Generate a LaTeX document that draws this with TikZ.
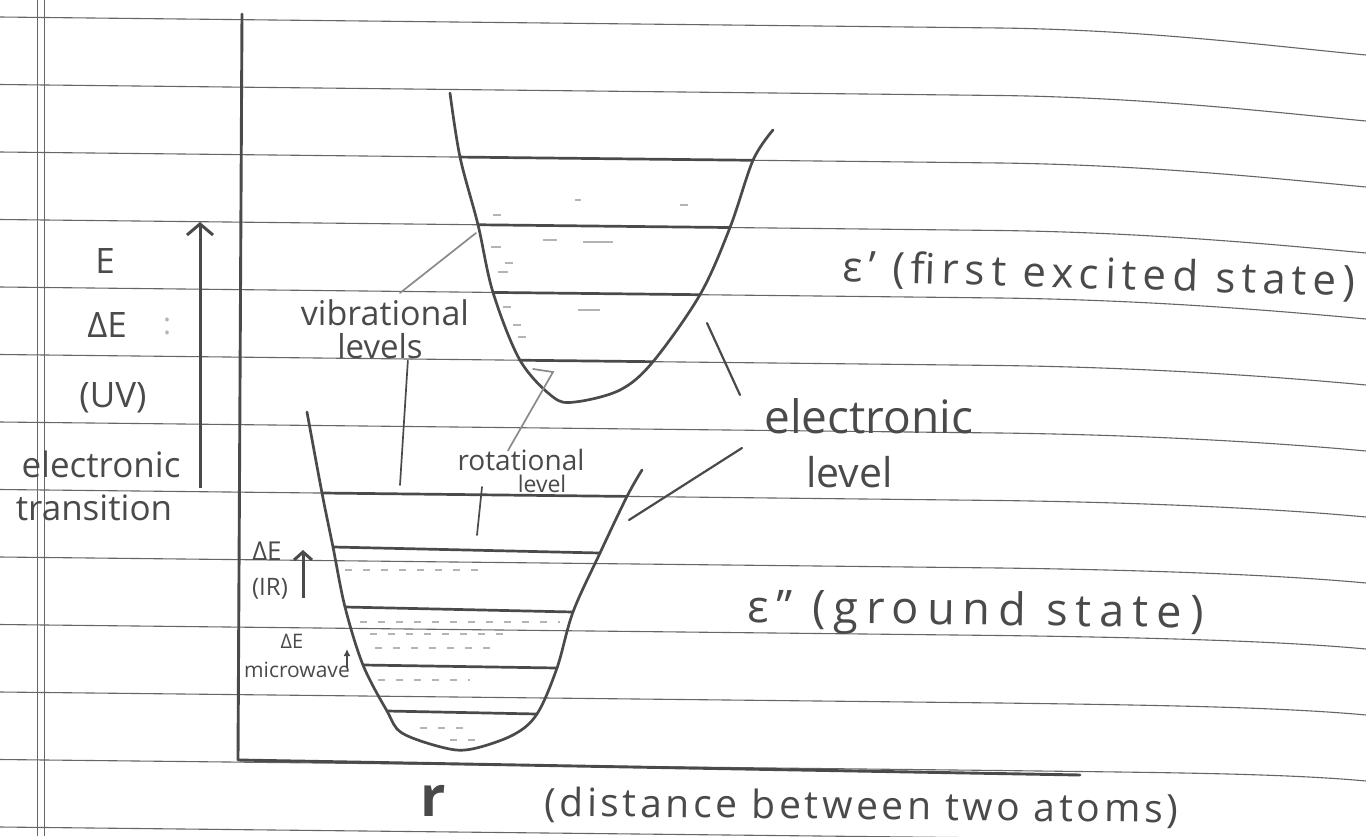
\documentclass[tikz,border=0pt]{standalone}
\usepackage{fontspec}
\setsansfont{Open Sans}
\usepackage{tikz}
\usetikzlibrary{arrows.meta,positioning,calc}
\definecolor{pencil}{HTML}{4A4A4A}
\definecolor{paperrule}{HTML}{666666}
\definecolor{faint}{HTML}{B4B4B4}
\newcommand{\penfont}[2]{\sffamily\fontsize{#1}{#1}\selectfont\addfontfeature{LetterSpace=#2}}

\begin{document}
\begin{tikzpicture}[x=1pt,y=-1pt,>={Straight Barb[length=11pt,width=26pt]},
  hand/.style={text=pencil,inner sep=0pt},
  well/.style={pencil,line width=2.7pt,line cap=round,line join=round},
  vlevel/.style={pencil,line width=2.7pt},
  pointer/.style={pencil,line width=1.7pt,line cap=round},
  rot dash/.style={faint,line width=1.5pt,dash pattern=on 7pt off 11pt}]
  \fill[white] (0,0) rectangle (1366,836);
  \useasboundingbox (0,0) rectangle (1366,836);
  % ruled paper
  \foreach \i in {0,...,12}{
    \pgfmathsetmacro\yo{17+67.5*\i}
    \pgfmathsetmacro\dr{38-1.5*\i}
    \draw[paperrule,line width=1.1pt] (0,\yo) -- (1000,\yo+11)
      .. controls (1150,\yo+13) and (1280,\yo+\dr-8) .. (1366,\yo+\dr);}
  \draw[paperrule,line width=0.9pt] (37,0) -- (37,836) (44,0) -- (44,836);
  % axes
  \coordinate (ytop) at (242,14);
  \coordinate (origin) at (238,760);
  \coordinate (xend) at (1080,775);
  \draw[well,line width=2.9pt] (ytop) -- (origin) -- (xend);
  % excited well
  \foreach \n/\xl/\xr/\yo in {1/460/753/152,2/478/730/219.5,3/493/700/287,4/520/653/354.5}{
    \coordinate (u\n-l) at (\xl,\yo+0.011*\xl);
    \coordinate (u\n-r) at (\xr,\yo+0.011*\xr);}
  \draw[well] plot[smooth,tension=0.55] coordinates {(450,93) (u1-l) (u2-l) (u3-l) (u4-l)
    (553,397) (575,402) (620,390) (u4-r) (u3-r) (u2-r) (u1-r) (773,130)};
  \foreach \n in {1,...,4}{\draw[vlevel] (u\n-l) -- (u\n-r);}
  % ground well
  \foreach \n/\xl/\yl/\xr/\yr in {1/322/493/627/496.4,2/333/547/600/553,3/345/607/573/612,
      4/363/665/557/668,5/387/711/537/714}{
    \coordinate (g\n-l) at (\xl,\yl);
    \coordinate (g\n-r) at (\xr,\yr);}
  \draw[well] plot[smooth,tension=0.55] coordinates {(307,412) (g1-l) (g2-l) (g3-l) (g4-l) (g5-l)
    (402,733) (445,748) (472,749) (513,735) (g5-r) (g4-r) (g3-r) (g2-r) (g1-r) (642,470)};
  \foreach \n in {1,...,5}{\draw[vlevel] (g\n-l) -- (g\n-r);}
  % rotational dashes
  \foreach \a/\b/\y in {345/480/570,360/560/622,370/510/634,375/490/648,378/470/680,420/470/728,450/485/740}{
    \draw[rot dash] (\a,\y) -- (\b,\y);}
  \foreach \a/\y/\l in {493/215/8,491/247/10,505/263/8,498/272/10,543/240/14,583/242/30,503/307/8,
      513/325/8,518/337/8,680/205/8,578/310/22,575/200/6}{
    \draw[faint,line width=1.5pt] (\a,\y) -- ++(\l,0);}
  % left labels
  \node[hand,font=\penfont{35}{0},anchor=base] (lblE) at (105,273) {E};
  \node[hand,font=\penfont{35}{0},anchor=base] (lblDE) at (107,337) {ΔE};
  \node[hand,font=\penfont{30}{0},anchor=base,text=faint] (lblColon) at (167,334) {:};
  \node[hand,font=\penfont{35}{0},anchor=base] (lblUV) at (113,407) {(UV)};
  \node[hand,font=\penfont{35}{0},anchor=base] (lblElec) at (101,477) {electronic};
  \node[hand,font=\penfont{35}{0},anchor=base] (lblTrans) at (94,520) {transition};
  \coordinate (uvbot) at (200,488);
  \coordinate (uvtop) at (200,222);
  \draw[->,pencil,line width=3pt] (uvbot) -- (uvtop);
  % IR and microwave
  \node[hand,font=\penfont{26}{0},anchor=base] (irDE) at (267,560) {ΔE};
  \node[hand,font=\penfont{24}{0},anchor=base] (irLbl) at (270,595) {(IR)};
  \coordinate (irbot) at (303,598);
  \coordinate (irtop) at (303,550);
  \draw[-{Straight Barb[length=8pt,width=18pt]},pencil,line width=3pt] (irbot) -- (irtop);
  \node[hand,font=\penfont{20}{0},anchor=base] (mwDE) at (292,648) {ΔE};
  \node[hand,font=\penfont{21}{0},anchor=base] (mwLbl) at (297,677) {microwave};
  \coordinate (mwbot) at (347,668);
  \coordinate (mwtop) at (347,649);
  \draw[-{Latex[length=7pt,width=7pt]},pencil,line width=2pt] (mwbot) -- (mwtop);
  % vibrational levels
  \node[hand,font=\penfont{34}{0},anchor=base] (vib) at (385,325) {vibrational};
  \node[hand,font=\penfont{33}{0},anchor=base] (vibl) at (380,358) {levels};
  \coordinate (vibtip) at (476,233);
  \coordinate (vibdown) at (400,485);
  \draw[pointer,faint!60!pencil] (vib.north) ++(15,-6) -- (vibtip);
  \draw[pointer] ($(vibl.south east)+(-15,2)$) -- (vibdown);
  % rotational level
  \node[hand,font=\penfont{28}{0},anchor=base] (rot) at (521,470) {rotational};
  \node[hand,font=\penfont{23}{0},anchor=base] (rotl) at (542,492) {level};
  \coordinate (rottip) at (553,372);
  \draw[pointer,faint!60!pencil] ($(rot.north)+(-13,2)$) -- (rottip) -- ++(-20,-3);
  \coordinate (rottop) at (482,487);
  \coordinate (rotbot) at (477,535);
  \draw[pointer] (rottop) -- (rotbot);
  % electronic level
  \node[hand,font=\penfont{46}{0},anchor=base west] (elec) at (764,433) {electronic};
  \node[hand,font=\penfont{41}{0},anchor=base west] (elecl) at (806,487) {level};
  \coordinate (eupA) at (707,323);
  \coordinate (eupB) at (740,395);
  \coordinate (elowA) at (742,448);
  \coordinate (elowB) at (629,520);
  \draw[pointer,line width=2.2pt] (eupA) -- (eupB);
  \draw[pointer,line width=2.2pt] (elowA) -- (elowB);
  % states
  \node[hand,font=\penfont{42}{14.5},anchor=base west,rotate=-1.7] (excited) at (842,281)
    {ε' (first excited state)};
  \node[hand,font=\penfont{45}{18},anchor=base west,rotate=-0.7] (ground) at (747,622)
    {ε" (ground state)};
  % distance axis
  \node[hand,font=\penfont{56}{0}\bfseries,anchor=base west] (rlbl) at (420,816) {r};
  \node[hand,font=\penfont{39}{9.5},anchor=base west,rotate=-0.6] (dist) at (544,816)
    {(distance between two atoms)};
\end{tikzpicture}
\end{document}
